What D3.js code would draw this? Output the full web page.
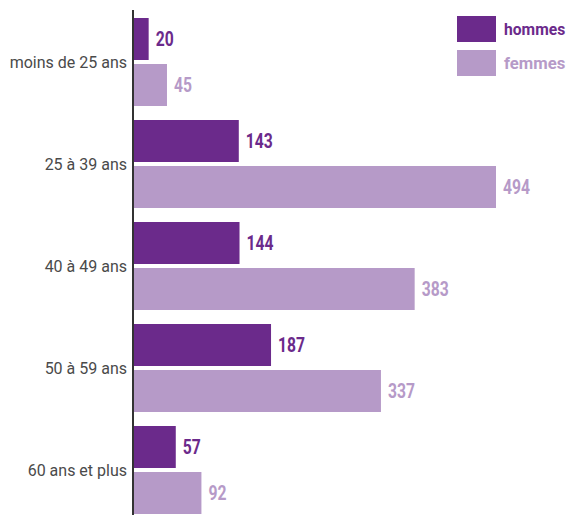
<!DOCTYPE html>
<html><head><meta charset="utf-8">
<script src="https://cdn.jsdelivr.net/npm/d3@7"></script>
<style>body{margin:0;background:#fff}</style>
</head><body>
<svg id="c" width="571" height="515"></svg>
<script>
const categories = ["moins de 25 ans","25 à 39 ans","40 à 49 ans","50 à 59 ans","60 ans et plus"];
const series = ["hommes","femmes"];
const hommes = [20,143,144,187,57];
const femmes = [45,494,383,337,92];
const colors = {hommes:"#6b2a8b", femmes:"#b69ac8"};

const svg = d3.select("#c");
const x = d3.scaleLinear().domain([0,494]).range([134,496]);
const y = d3.scaleBand().domain(categories).range([18,514]).paddingInner(14/102).paddingOuter(0);
const ys = d3.scaleBand().domain(series).range([0,y.bandwidth()]).paddingInner(4/46);

const numFont = "Roboto, 'DejaVu Sans', sans-serif";
const data = {hommes, femmes};
const g = svg.selectAll("g.cat").data(categories).enter().append("g")
  .attr("transform", d => `translate(0,${y(d)})`);

series.forEach(s => {
  g.append("rect")
    .attr("x", x(0))
    .attr("y", ys(s))
    .attr("width", (d,i) => x(data[s][i]) - x(0))
    .attr("height", ys.bandwidth())
    .attr("fill", colors[s]);
  g.append("text")
    .attr("x", (d,i) => x(data[s][i]) + 7)
    .attr("y", ys(s) + ys.bandwidth()/2)
    .attr("dy", "0.36em")
    .attr("font-family", numFont)
    .attr("font-weight", "bold")
    .attr("font-size", 20)
    .attr("textLength", (d,i) => String(data[s][i]).length * 9)
    .attr("lengthAdjust", "spacingAndGlyphs")
    .attr("fill", colors[s])
    .text((d,i) => data[s][i]);
});

// category labels
g.append("text")
  .attr("x", 127)
  .attr("y", y.bandwidth()/2)
  .attr("dy", "0.36em")
  .attr("text-anchor", "end")
  .attr("font-family", "Roboto, 'Liberation Sans', sans-serif")
  .attr("font-size", 16)
  .attr("fill", "#4a4a4a")
  .text(d => d);

// axis line
svg.append("line").attr("x1",133).attr("x2",133).attr("y1",10).attr("y2",515)
  .attr("stroke","#333").attr("stroke-width",2);

// legend
const lg = svg.append("g");
series.forEach((s,i) => {
  lg.append("rect").attr("x",457).attr("y",16+i*34).attr("width",39).attr("height",26).attr("fill",colors[s]);
  lg.append("text").attr("x",504).attr("y",29+i*34).attr("dy","0.36em")
    .attr("font-family", numFont)
    .attr("font-weight","bold").attr("font-size",17)
    .attr("textLength", s.length * 10.2)
    .attr("lengthAdjust", "spacingAndGlyphs")
    .attr("fill",colors[s]).text(s);
});
</script>
</body></html>
